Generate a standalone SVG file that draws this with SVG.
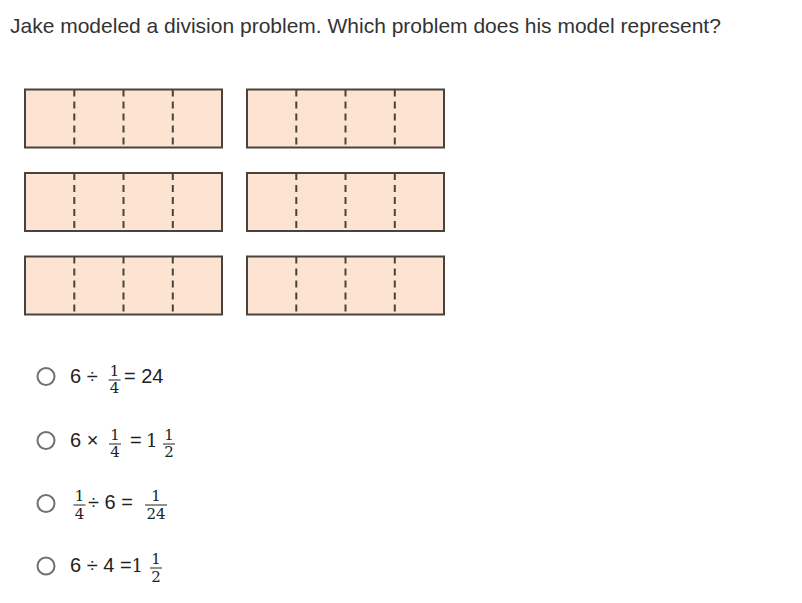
<svg xmlns="http://www.w3.org/2000/svg" width="802" height="603" viewBox="0 0 802 603">
<style>
.t{font-family:"Liberation Sans",Arial,sans-serif;font-size:21px;fill:#333}
.m{font-family:"Liberation Sans",Arial,sans-serif;font-size:20px;fill:#222}
.f{font-family:"DejaVu Serif","Liberation Serif",serif;font-size:15px;fill:#222;text-anchor:middle}
.b{font-family:"DejaVu Serif","Liberation Serif",serif;font-size:18px;fill:#222}
.box{fill:#fde4d2;stroke:#4a423d;stroke-width:2}
.div{stroke:#4a423d;stroke-width:2;stroke-dasharray:7 5}
.bar{stroke:#222;stroke-width:1}
.radio{fill:#fff;stroke:#707070;stroke-width:2}
</style>
<defs>
<g id="bar4">
<rect class="box" x="0" y="0" width="197" height="58"/>
<line class="div" x1="49.3" y1="0" x2="49.3" y2="58"/>
<line class="div" x1="98.5" y1="0" x2="98.5" y2="58"/>
<line class="div" x1="147.8" y1="0" x2="147.8" y2="58"/>
</g>
</defs>
<rect width="802" height="603" fill="#fff"/>
<text class="t" x="10" y="33">Jake modeled a division problem. Which problem does his model represent?</text>
<g id="model">
<use href="#bar4" x="25" y="89.5"/>
<use href="#bar4" x="247" y="89.5"/>
<use href="#bar4" x="25" y="173"/>
<use href="#bar4" x="247" y="173"/>
<use href="#bar4" x="25" y="256.5"/>
<use href="#bar4" x="247" y="256.5"/>
</g>
<g id="optA">
<circle class="radio" cx="46" cy="376.5" r="8.5"/>
<text class="m" x="70" y="383">6 ÷</text>
<text class="f" x="114.5" y="375.5">1</text>
<line class="bar" x1="108.5" y1="380" x2="120.5" y2="380"/>
<text class="f" x="114.5" y="393">4</text>
<text class="m" x="124" y="383">= 24</text>
</g>
<g id="optB">
<circle class="radio" cx="46" cy="440.5" r="8.5"/>
<text class="m" x="70" y="447">6 ×</text>
<text class="f" x="115" y="440">1</text>
<line class="bar" x1="109" y1="444" x2="121" y2="444"/>
<text class="f" x="115" y="457">4</text>
<text class="m" x="130" y="447">=</text>
<text class="b" x="146" y="447">1</text>
<text class="f" x="169" y="440">1</text>
<line class="bar" x1="163" y1="444" x2="175" y2="444"/>
<text class="f" x="169" y="457">2</text>
</g>
<g id="optC">
<circle class="radio" cx="46" cy="503.5" r="8.5"/>
<text class="f" x="79.5" y="501">1</text>
<line class="bar" x1="73.5" y1="505" x2="85.5" y2="505"/>
<text class="f" x="79.5" y="518.5">4</text>
<text class="m" x="88" y="509">÷ 6 =</text>
<text class="f" x="156" y="501">1</text>
<line class="bar" x1="145" y1="505" x2="167" y2="505"/>
<text class="f" x="156" y="518.5">24</text>
</g>
<g id="optD">
<circle class="radio" cx="46" cy="566" r="8.5"/>
<text class="m" x="70" y="572">6 ÷ 4 =</text>
<text class="b" x="131.5" y="572">1</text>
<text class="f" x="156" y="564">1</text>
<line class="bar" x1="150" y1="568" x2="162" y2="568"/>
<text class="f" x="156" y="581.5">2</text>
</g>
</svg>
